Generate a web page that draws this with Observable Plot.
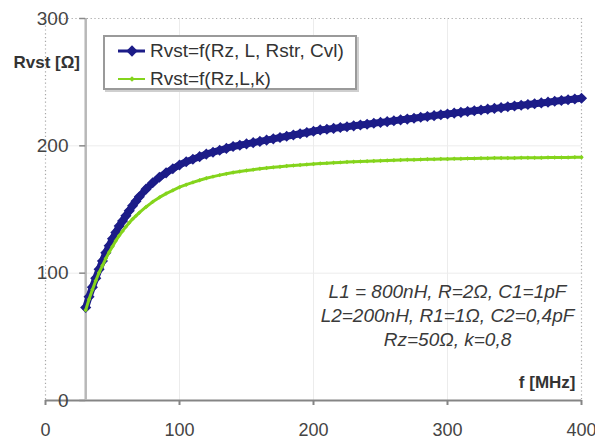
<!DOCTYPE html>
<html>
<head>
<meta charset="utf-8">
<script src="https://cdn.jsdelivr.net/npm/d3@7"></script>
<script src="https://cdn.jsdelivr.net/npm/@observablehq/plot@0.6"></script>
<style>
  html, body { margin: 0; padding: 0; background: #fff; }
  #wrap { position: relative; width: 595px; height: 439px; font-family: "Liberation Sans", Arial, sans-serif; }
  #legend { position: absolute; left: 103px; top: 35px; width: 250px; height: 51px; border: 2px solid #9a9a9a; box-shadow: 2px 2px 0 #cfcfcf; background: #fff; }
  .item { position: absolute; left: 0; height: 20px; display: flex; align-items: center; font-size: 19px; color: #333; white-space: nowrap; }
  .sym { position: relative; width: 27px; margin-left: 13px; margin-right: 5px; height: 10px; }
  .sym .ln { position: absolute; left: 0; right: 0; top: 50%; transform: translateY(-50%); }
  .sym .mk { position: absolute; left: 50%; top: 50%; transform: translate(-50%, -50%) rotate(45deg); }
</style>
</head>
<body>
<div id="wrap"></div>
<script>
// ---- data ----
const freqMHz = [30, 32.5, 35, 37.5, 40, 42.5, 45, 47.5, 50, 52.5, 55, 57.5, 60, 62.5, 65, 67.5, 70,
  75, 80, 85, 90, 95, 100, 105, 110, 115, 120, 125, 130, 135, 140, 145, 150, 155, 160, 165, 170, 175,
  180, 185, 190, 195, 200, 205, 210, 215, 220, 225, 230, 235, 240, 245, 250, 255, 260, 265, 270, 275,
  280, 285, 290, 295, 300, 305, 310, 315, 320, 325, 330, 335, 340, 345, 350, 355, 360, 365, 370, 375,
  380, 385, 390, 395, 400];
const rvstFull = [73, 81.5, 89, 96, 103, 109.5, 116, 121.5, 127, 132, 137, 141, 145, 149, 153, 156.5, 160,
  166, 171, 175.3, 178.8, 182, 185, 187.5, 189.5, 191.5, 193.5, 195, 196.5, 198, 199.5, 200.5, 201.5, 202.5,
  203.5, 204.5, 205.5, 206.5, 207.5, 208.5, 209.5, 210.5, 211.5, 212.5, 213, 213.7, 214.4, 215, 215.7,
  216.4, 217, 217.7, 218.4, 219, 219.7, 220.4, 221, 221.7, 222.4, 223, 223.7, 224.4, 225, 225.7, 226.3,
  227, 227.6, 228.2, 228.8, 229.4, 230, 230.7, 231.3, 231.9, 232.5, 233.1, 233.7, 234.3, 235, 235.6,
  236.2, 236.8, 237.4];
const rvstK = [71, 79.5, 87, 94, 100.5, 106, 111.5, 116.5, 121, 125.5, 129.5, 133, 136.5, 139.6, 142.5, 145, 147.5,
  152, 156, 159.5, 162.5, 165, 167.5, 169.5, 171.3, 173, 174.5, 175.8, 177, 178, 179, 179.8, 180.6, 181.3,
  182, 182.6, 183.1, 183.6, 184.1, 184.5, 184.9, 185.3, 185.7, 186.1, 186.4, 186.7, 187, 187.3, 187.5,
  187.7, 187.9, 188.1, 188.3, 188.5, 188.7, 188.9, 189, 189.1, 189.3, 189.4, 189.5, 189.6, 189.7, 189.8,
  189.9, 190, 190.1, 190.2, 190.3, 190.4, 190.4, 190.5, 190.5, 190.6, 190.6, 190.7, 190.7, 190.8, 190.8,
  190.9, 190.9, 191, 191];
const seriesNames = ["Rvst=f(Rz, L, Rstr, Cvl)", "Rvst=f(Rz,L,k)"];
const seriesColors = ["#1c1c88", "#84d41c"];
const xTicks = [0, 100, 200, 300, 400];
const yTicks = [0, 100, 200, 300];
const yAxisCrossAt = 30;
const xLabel = "f [MHz]";
const yLabel = "Rvst [Ω]";
const noteLines = ["L1 = 800nH, R=2Ω, C1=1pF", "L2=200nH, R1=1Ω, C2=0,4pF", "Rz=50Ω, k=0,8"];

// ---- build table ----
const blue = freqMHz.map((f, i) => ({f, v: rvstFull[i]}));
const green = freqMHz.map((f, i) => ({f, v: rvstK[i]}));

const W = 595, H = 439;
const mL = 45, mR = 14, mT = 18, mB = 39;
const axisDx = (yAxisCrossAt - xTicks[0]) / (xTicks[xTicks.length - 1] - xTicks[0]) * (W - mL - mR);
const dotted = {stroke: "#a8a8a8", strokeDasharray: "1.2,2.6", strokeWidth: 1.2};

const chart = Plot.plot({
  width: W, height: H,
  marginLeft: mL, marginRight: mR, marginTop: mT, marginBottom: mB,
  style: {fontFamily: '"Liberation Sans", Arial, sans-serif', background: "#fff", overflow: "visible"},
  x: {domain: [0, 400], label: null},
  y: {domain: [0, 300], label: null},
  marks: [
    Plot.gridY([100, 200], {stroke: "#ececec", strokeOpacity: 1}),
    Plot.gridX([100, 200, 300], {stroke: "#ececec", strokeOpacity: 1}),
    Plot.ruleX([xTicks[0], xTicks[xTicks.length - 1]], dotted),
    Plot.ruleY([yTicks[yTicks.length - 1]], dotted),
    // x axis
    Plot.ruleY([0], {stroke: "#858585", strokeWidth: 2}),
    Plot.axisX(xTicks, {anchor: "bottom", tickSize: 5, tickFormat: () => "", label: null, color: "#858585", strokeWidth: 2}),
    Plot.text(xTicks, {x: d => d, frameAnchor: "bottom", dy: 30, lineAnchor: "middle", textAnchor: "middle", fontSize: 18, fill: "#444"}),
    // y axis crossing at f = 30
    Plot.ruleX([yAxisCrossAt], {stroke: "#b8b8b8", strokeWidth: 2.5}),
    Plot.axisY(yTicks, {anchor: "left", dx: axisDx, tickSize: 6, tickFormat: () => "", label: null, color: "#8a8a8a", strokeWidth: 1.5}),
    Plot.text(yTicks, {y: d => d, frameAnchor: "left", dx: 23, textAnchor: "end", lineAnchor: "middle", fontSize: 19, fill: "#444"}),
    // series
    Plot.line(blue, {x: "f", y: "v", stroke: seriesColors[0], strokeWidth: 7}),
    Plot.dot(blue, {x: "f", y: "v", symbol: "diamond2", r: 5, fill: seriesColors[0], stroke: "none"}),
    Plot.line(green, {x: "f", y: "v", stroke: seriesColors[1], strokeWidth: 3}),
    Plot.dot(green, {x: "f", y: "v", symbol: "diamond2", r: 2, fill: seriesColors[1], stroke: "none"}),
    // labels
    Plot.text([xLabel], {frameAnchor: "bottom-right", dx: -6, dy: -18, textAnchor: "end", lineAnchor: "middle", fontSize: 17, fontWeight: "bold", fill: "#333"}),
    Plot.text([yLabel], {frameAnchor: "top-left", dx: -32, dy: 44, textAnchor: "start", lineAnchor: "middle", fontSize: 17, fontWeight: "bold", fill: "#333"}),
    Plot.text([noteLines.join("\n")], {frameAnchor: "bottom-right", dx: -134, dy: -86, textAnchor: "middle", lineAnchor: "middle", lineHeight: 1.24, fontSize: 19, fontStyle: "italic", fill: "#3a3a3a"})
  ]
});

const wrap = document.getElementById("wrap");
wrap.appendChild(chart);

// legend (inside plot area, top-left)
const legend = document.createElement("div");
legend.id = "legend";
const specs = [
  {top: 4, lineH: 3, mk: 8},
  {top: 32, lineH: 2, mk: 4}
];
seriesNames.forEach((name, i) => {
  const it = document.createElement("div");
  it.className = "item";
  it.style.top = specs[i].top + "px";
  const sym = document.createElement("span");
  sym.className = "sym";
  const ln = document.createElement("span");
  ln.className = "ln";
  ln.style.height = specs[i].lineH + "px";
  ln.style.background = seriesColors[i];
  const mk = document.createElement("span");
  mk.className = "mk";
  mk.style.width = specs[i].mk + "px";
  mk.style.height = specs[i].mk + "px";
  mk.style.background = seriesColors[i];
  sym.appendChild(ln); sym.appendChild(mk);
  const tx = document.createElement("span");
  tx.textContent = name;
  it.appendChild(sym); it.appendChild(tx);
  legend.appendChild(it);
});
wrap.appendChild(legend);
</script>
</body>
</html>
